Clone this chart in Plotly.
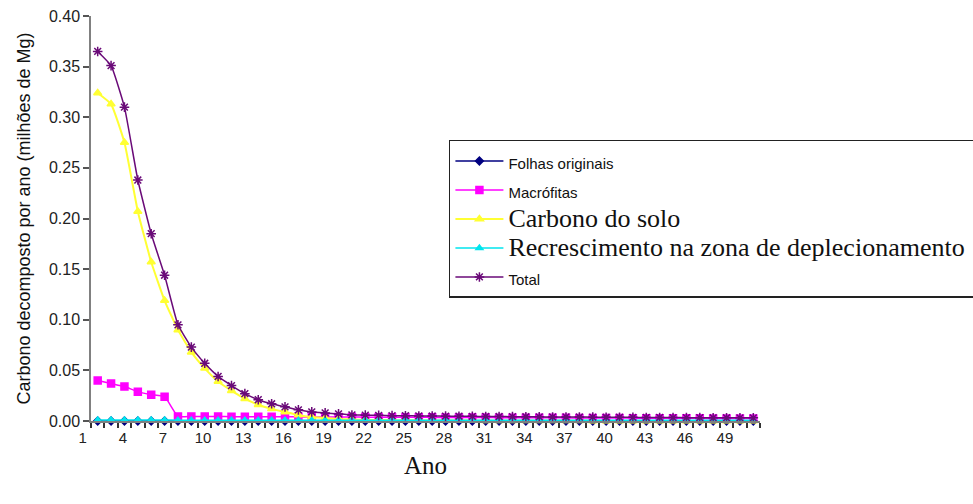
import plotly.graph_objects as go

# ---- data ----
anos = list(range(1, 51))
tick_labels = [str(v) for v in range(1, 50, 3)]
tick_years = list(range(1, 50, 3))
y_ticks = [0.00, 0.05, 0.10, 0.15, 0.20, 0.25, 0.30, 0.35, 0.40]

folhas = [0.0] * 50

macrofitas = [0.040, 0.037, 0.034, 0.029, 0.026, 0.024,
              0.0045, 0.0045, 0.0044, 0.0044, 0.0043, 0.0043,
              0.0042, 0.0042, 0.0041, 0.0041, 0.0040, 0.0040, 0.0039, 0.0039,
              0.0038, 0.0038, 0.0037, 0.0037, 0.0036, 0.0036, 0.0035, 0.0035, 0.0034, 0.0034,
              0.0033, 0.0033, 0.0032, 0.0032, 0.0031, 0.0031, 0.0030, 0.0030, 0.0029, 0.0029,
              0.0028, 0.0028, 0.0027, 0.0027, 0.0026, 0.0026, 0.0025, 0.0025, 0.0024, 0.0024]

solo = [0.324, 0.313, 0.275, 0.207, 0.157, 0.119, 0.090, 0.068, 0.052, 0.039,
        0.030, 0.022, 0.016, 0.012, 0.009, 0.006, 0.004, 0.003, 0.002, 0.0015,
        0.0012, 0.0010, 0.0008, 0.0007, 0.0006, 0.0005, 0.0005, 0.0004, 0.0004, 0.0003,
        0.0003, 0.0003, 0.0002, 0.0002, 0.0002, 0.0002, 0.0002, 0.0001, 0.0001, 0.0001,
        0.0001, 0.0001, 0.0001, 0.0001, 0.0001, 0.0001, 0.0001, 0.0001, 0.0001, 0.0001]

recrescimento = [0.0010] * 6 + [0.0008] * 44

total = [0.365, 0.351, 0.310, 0.238, 0.185, 0.144, 0.095, 0.073, 0.057, 0.044,
         0.035, 0.027, 0.021, 0.017, 0.014, 0.011, 0.009, 0.008, 0.007, 0.006,
         0.0058, 0.0056, 0.0053, 0.0052, 0.0050, 0.0049, 0.0048, 0.0047, 0.0046, 0.0045,
         0.0044, 0.0043, 0.0042, 0.0041, 0.0040, 0.0040, 0.0039, 0.0038, 0.0037, 0.0037,
         0.0036, 0.0035, 0.0035, 0.0034, 0.0033, 0.0033, 0.0032, 0.0032, 0.0031, 0.0031]

SANS = "Liberation Sans, Arial, sans-serif"
SERIF = "Liberation Serif, Times New Roman, serif"

def small(t):
    return f'<span style="font-size:15px">{t}</span>'

def big(t):
    return f'<span style="font-family:Liberation Serif,serif;font-size:26px">{t}</span>'

series = [
    (small("Folhas originais"), folhas, "#000080", "diamond", 6, 1.5),
    (small("Macrófitas"), macrofitas, "#FF00FF", "square", 7, 1.5),
    (big("Carbono do solo"), solo, "#FFFF33", "triangle-up", 7, 2),
    (big("Recrescimento na zona de deplecionamento&nbsp;"), recrescimento, "#00E5EE", "triangle-up", 6, 1.5),
    (small("Total"), total, "#6A0A78", "asterisk-open", 8, 1.5),
]

fig = go.Figure()
for name, vals, color, sym, size, lw in series:
    fig.add_trace(go.Scatter(
        x=anos, y=vals, name=name, mode="lines+markers",
        line=dict(color=color, width=lw, shape="spline", smoothing=0.4),
        marker=dict(symbol=sym, size=size, color=color,
                    line=dict(color=color, width=1.5)),
        cliponaxis=False,
    ))

fig.update_layout(
    width=973, height=504,
    margin=dict(l=91, r=213, t=16, b=83, autoexpand=False),
    paper_bgcolor="white", plot_bgcolor="white",
    font=dict(family=SANS, size=15, color="#222222"),
    showlegend=True,
    legend=dict(
        x=0.535, y=0.694, xanchor="left", yanchor="top",
        bgcolor="white", bordercolor="#222222", borderwidth=1.5,
        font=dict(family=SANS, size=20, color="#111111"),
        itemwidth=48, tracegroupgap=0,
    ),
)

fig.update_xaxes(
    range=[0.5, 50.5],
    tickmode="array", tickvals=tick_years, ticktext=tick_labels,
    ticks="", ticklabelshift=-15, ticklabelstandoff=2,
    tickfont=dict(family=SANS, size=15, color="#222222"),
    showline=True, linecolor="#808080", linewidth=1.5,
    showgrid=False, zeroline=False,
    minor=dict(ticks="outside", ticklen=5, tickwidth=1.5, tickcolor="#333333",
               tickmode="array", tickvals=[a - 0.5 for a in anos] + [50.5]),
    title=dict(text="Ano", font=dict(family=SERIF, size=25, color="#111111"), standoff=12),
)

fig.update_yaxes(
    range=[0, 0.40], tickmode="array", tickvals=y_ticks, tickformat=".2f",
    ticks="outside", ticklen=6, tickwidth=1.5, tickcolor="#555555",
    tickfont=dict(family=SANS, size=16, color="#222222"),
    showline=True, linecolor="#808080", linewidth=1.5,
    showgrid=False, zeroline=False,
    title=dict(text="Carbono decomposto por ano (milhões de Mg)",
               font=dict(family=SANS, size=18, color="#111111"), standoff=14),
)

fig.write_html("out.html", config={"displayModeBar": False},
               post_script="document.body.style.margin='0px';")
